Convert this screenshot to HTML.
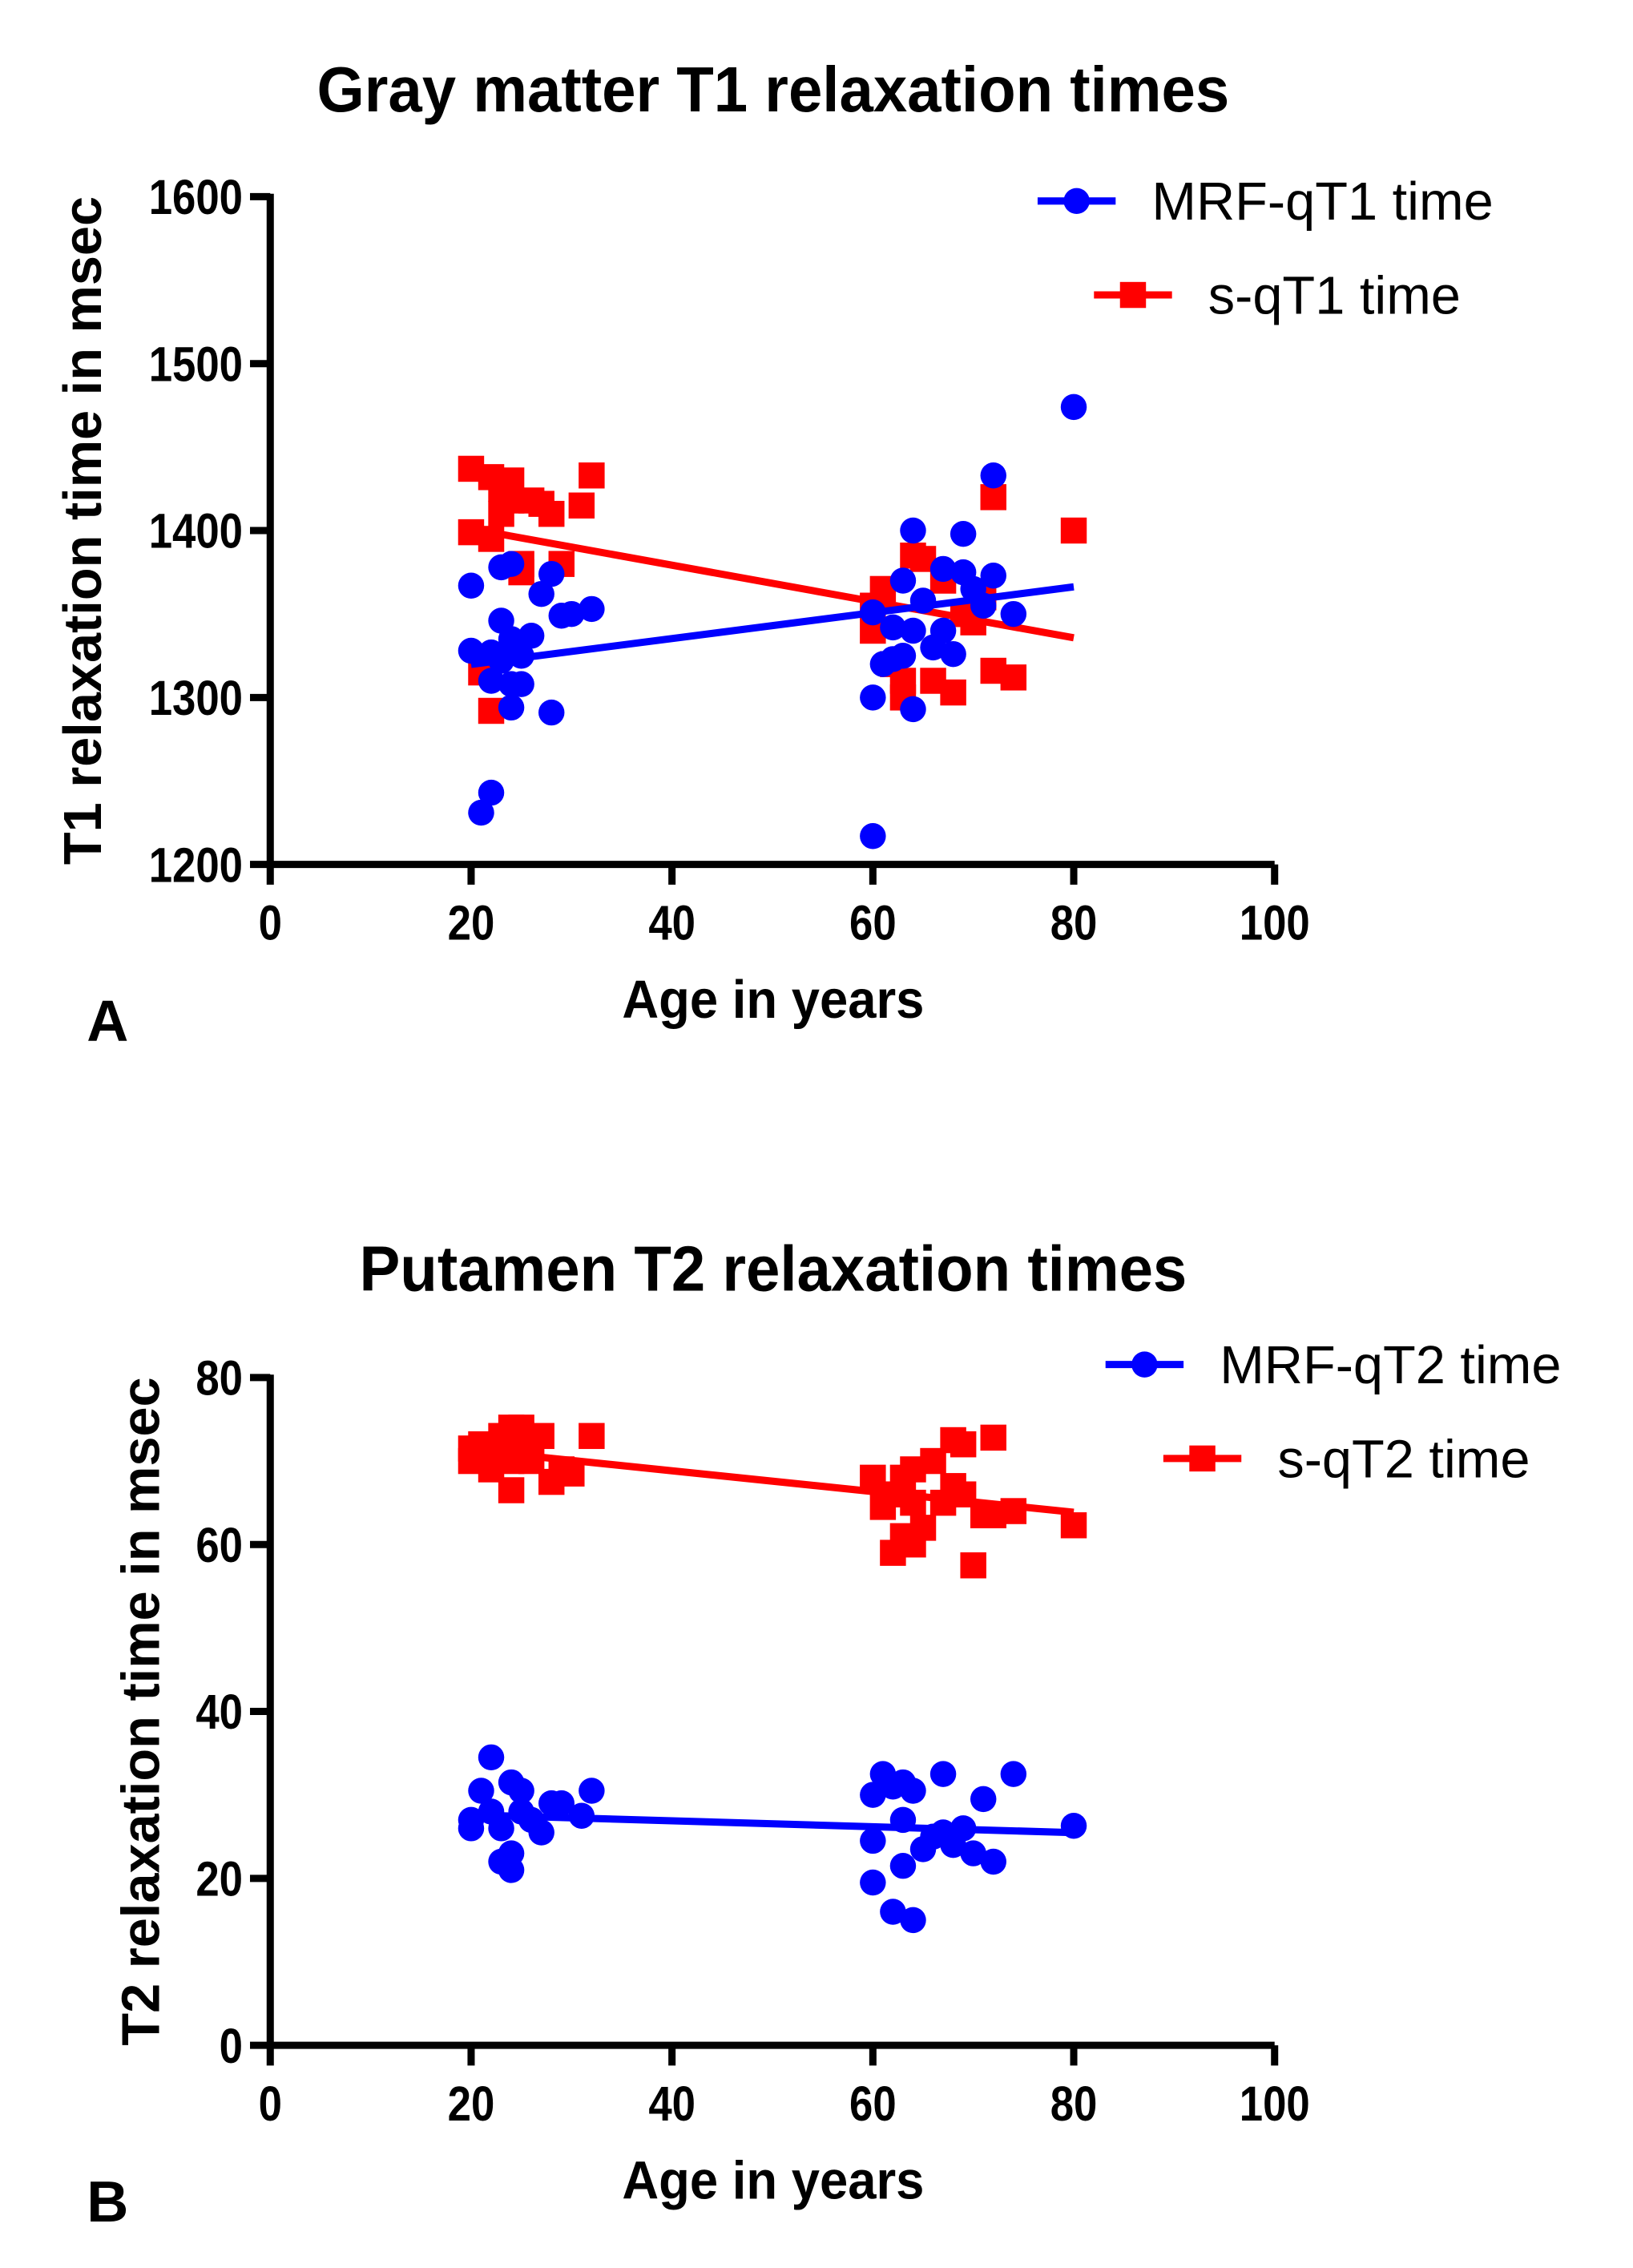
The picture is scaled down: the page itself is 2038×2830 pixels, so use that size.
<!DOCTYPE html>
<html><head><meta charset="utf-8"><style>
html,body{margin:0;padding:0;background:#fff}
svg{display:block}
text{font-family:"Liberation Sans",Arial,sans-serif}
</style></head><body>
<svg id="fig" xmlns="http://www.w3.org/2000/svg" width="2038" height="2830" viewBox="0 0 1130 1569"></svg>
<script>
// ---------- Panel A data ----------
const aMrfAge=[20,20,21,22,22,22,23,23,23,24,24,24,24,25,25,26,27,28,28,29,30,32,60,60,60,61,62,62,63,63,64,64,64,65,66,67,67,68,69,69,70,71,72,72,74,80];
const aMrfVal=[1367,1328,1231,1243,1327,1310,1346,1378,1322,1380,1294,1308,1335,1308,1325,1337,1362,1374,1291,1349,1350,1353,1351,1300,1217,1320,1342,1323,1370,1325,1293,1340,1400,1358,1330,1377,1340,1326,1398,1375,1365,1355,1373,1433,1350,1474];
const aSAge=[20,20,21,22,22,22,23,23,24,24,25,25,26,27,28,29,31,32,60,60,61,62,63,63,64,65,66,67,68,69,70,71,72,72,74,80];
const aSVal=[1437,1399,1315,1292,1432,1395,1425,1410,1430,1418,1375,1380,1418,1416,1410,1380,1415,1433,1340,1355,1365,1320,1300,1310,1385,1383,1310,1370,1303,1350,1345,1360,1420,1316,1312,1400];
const aYTicks=[1200,1300,1400,1500,1600];
const xTicks=[0,20,40,60,80,100];
// ---------- Panel B data ----------
const bMrfAge=[20,20,21,22,22,23,23,24,24,24,25,25,26,27,28,29,31,32,60,60,60,61,62,62,63,63,63,64,64,65,66,67,67,68,69,70,71,72,74,80];
const bMrfVal=[27,26,30.5,34.5,28,26,22,31.5,23,21,30.5,28,27,25.5,29,29,27.5,30.5,30,24.5,19.5,32.5,31,16,31.5,27,21.5,30.5,15,23.5,25,32.5,25.5,24,26,23,29.5,22,32.5,26.3];
const bSAge=[20,20,21,22,22,23,24,24,24,25,25,26,27,28,29,30,32,60,61,62,62,63,63,64,64,64,65,66,67,68,68,69,69,70,71,72,72,74,80];
const bSVal=[70,71.5,72,69,71,73,74,66.5,70,72,74,70,73,67.5,69,68.5,73,68,64.5,59,66,68,61,60,65,69,62,70,65,72.5,67,72,66,57.5,63.5,72.8,63.5,64,62.3];
const bYTicks=[0,20,40,60,80];

const NS="http://www.w3.org/2000/svg";
const svg=document.getElementById('fig');
function mk(tag,attrs,parent){const e=document.createElementNS(NS,tag);for(const k in attrs)e.setAttribute(k,attrs[k]);(parent||svg).appendChild(e);return e;}
function fit(xs,ys){const n=xs.length;let sx=0,sy=0,sxx=0,sxy=0;for(let i=0;i<n;i++){sx+=xs[i];sy+=ys[i];sxx+=xs[i]*xs[i];sxy+=xs[i]*ys[i];}const b=(n*sxy-sx*sy)/(n*sxx-sx*sx);return[(sy-b*sx)/n,b];}
// condensed text: horizontally scaled around anchor x
function ctext(parent,x,y,str,size,anchor,weight,sx){
  const t=mk('text',{x:0,y:0,transform:`translate(${x},${y}) scale(${sx},1)`,'text-anchor':anchor,'font-size':size,'font-weight':weight},parent);
  t.textContent=str;return t;
}

function panel(o){
  const g=mk('g',{});
  
  
  const X=v=>187+(v-0)/100*(882-187);
  const Y=v=>o.y0+(v-o.ymin)/(o.ymax-o.ymin)*(o.y1-o.y0);
  const t=ctext(g,535,o.titleY,o.title,44,'middle','bold',0.96);
  
  
  function series(ages,vals,color,shape,nm){
    const sg=mk('g',{fill:color},g);
    
    
    for(let i=0;i<ages.length;i++){
      let m;
      if(shape==='c'){m=mk('circle',{cx:X(ages[i]),cy:Y(vals[i]),r:9},sg);}
      else{m=mk('rect',{x:X(ages[i])-9,y:Y(vals[i])-9,width:18,height:18},sg);}
      
      
    }
    const f=fit(ages,vals);const xa=Math.min(...ages),xb=Math.max(...ages);
    const l=mk('line',{x1:X(xa),y1:Y(f[0]+f[1]*xa),x2:X(xb),y2:Y(f[0]+f[1]*xb),stroke:color,'stroke-width':5},g);
    
    
  }
  series(o.sAge,o.sVal,'#ff0000','s','s-series');
  series(o.mAge,o.mVal,'#0000ff','c','mrf-series');
  const ax=mk('path',{d:`M187,${o.y1-2} V${o.y0} H882`,fill:'none',stroke:'#000','stroke-width':5},g);
  
  
  xTicks.forEach(v=>{
    mk('line',{x1:X(v),y1:o.y0,x2:X(v),y2:o.y0+14,stroke:'#000','stroke-width':5},g);
    const tl=ctext(g,X(v),o.y0+52,String(v),34,'middle','bold',0.86);
    
    
  });
  o.yTicks.forEach(v=>{
    mk('line',{x1:173,y1:Y(v),x2:187,y2:Y(v),stroke:'#000','stroke-width':5},g);
    const tl=ctext(g,168,Y(v)+12,String(v),34,'end','bold',0.86);
    
    
  });
  const xt=ctext(g,535,o.y0+106,'Age in years',37,'middle','bold',0.95);
  
  
  const yc=(o.y0+o.y1)/2;
  const yt=mk('text',{x:0,y:0,transform:`translate(${o.ylx},${yc}) rotate(-90)`,'text-anchor':'middle','font-size':37,'font-weight':'bold'},g);yt.textContent=o.ylabel;
  
  
  const pl=mk('text',{x:60,y:o.y0+122,'font-size':40,'font-weight':'bold'},g);pl.textContent=o.letter;
  
  
  o.legend.forEach(L=>{
    const lg=mk('g',{},g);
    
    
    mk('line',{x1:L.x,y1:L.y,x2:L.x+54,y2:L.y,stroke:L.c,'stroke-width':5},lg);
    if(L.s==='c')mk('circle',{cx:L.x+27,cy:L.y,r:9,fill:L.c},lg);
    else mk('rect',{x:L.x+18,y:L.y-9,width:18,height:18,fill:L.c},lg);
    const lt=mk('text',{x:L.x+79,y:L.y+13,'font-size':37},lg);lt.textContent=L.t;
  });
}
panel({name:'panel-a-gray-matter-t1',title:'Gray matter T1 relaxation times',titleY:77,y0:598,y1:136,ymin:1200,ymax:1600,yTicks:aYTicks,
  mAge:aMrfAge,mVal:aMrfVal,sAge:aSAge,sVal:aSVal,ylabel:'T1 relaxation time in msec',ylx:70,letter:'A',
  legend:[{x:718,y:139,c:'#0000ff',s:'c',t:'MRF-qT1 time'},{x:757,y:204,c:'#ff0000',s:'s',t:'s-qT1 time'}]});
panel({name:'panel-b-putamen-t2',title:'Putamen T2 relaxation times',titleY:893,y0:1415,y1:953,ymin:0,ymax:80,yTicks:bYTicks,
  mAge:bMrfAge,mVal:bMrfVal,sAge:bSAge,sVal:bSVal,ylabel:'T2 relaxation time in msec',ylx:110,letter:'B',
  legend:[{x:765,y:944,c:'#0000ff',s:'c',t:'MRF-qT2 time'},{x:805,y:1009,c:'#ff0000',s:'s',t:'s-qT2 time'}]});
</script>
</body></html>
